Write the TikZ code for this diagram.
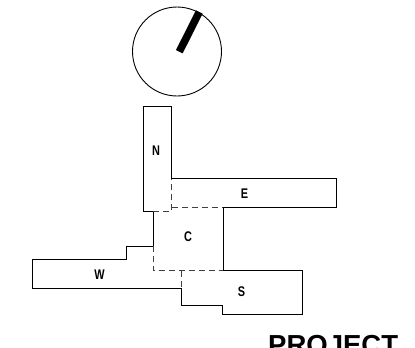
\documentclass[tikz,border=0pt]{standalone}
\usepackage{fontspec}
\setmainfont{Liberation Sans}
\tikzset{
  wall/.style={draw=black,line width=0.9pt},
  hidden/.style={draw=black!75,line width=0.9pt,dash pattern=on 6pt off 4pt},
  lbl/.style={font=\bfseries\fontsize{14}{16}\selectfont,inner sep=0pt,xscale=.78,transform shape},
  title/.style={font=\bfseries\fontsize{27.5}{30}\selectfont,inner sep=0pt,anchor=base west}
}
\begin{document}
\begin{tikzpicture}[x=1pt,y=-1pt]
\path[use as bounding box] (0,0) rectangle (415,348);
\clip (0,0) rectangle (415,348);
\fill[white] (0,0) rectangle (415,348);
\coordinate (cc) at (177,51.5);
\coordinate (h1) at (179.3,51.7);
\coordinate (h2) at (199.3,12);
\draw[wall] (cc) circle[radius=44.5];
\draw[line width=7.5pt] (h1) -- (h2);
% N
\draw[wall] (153,211.7) -- (143,211.7) -- (143,106) -- (171.5,106) -- (171.5,178.5);
\draw[hidden] (153,211.7) -- (171.5,211.7) -- (171.5,178.5);
% E
\draw[wall] (171.5,178.5) -- (336,178.5) -- (336,207.5) -- (223,207.5);
\draw[hidden] (171.5,207.5) -- (223,207.5);
% C
\draw[wall] (223,207.5) -- (223,270.7);
\draw[wall] (153,211.7) -- (153,246.3);
\draw[hidden] (153,246.3) -- (153,270.7) -- (223,270.7);
% W
\draw[wall] (153,246.3) -- (126,246.3) -- (126,259.3) -- (32,259.3) -- (32,288.3) -- (181,288.3);
\draw[hidden] (181,270.7) -- (181,288.3);
% S
\draw[wall] (223,270.7) -- (302.5,270.7) -- (302.5,314.3) -- (222.3,314.3) -- (222.3,305.5) -- (181,305.5) -- (181,288.3);
\node[lbl] (n) at (156,151) {N};
\node[lbl] (e) at (244.5,193.5) {E};
\node[lbl] (c) at (188,236.5) {C};
\node[lbl] (w) at (99.5,275) {W};
\node[lbl] (s) at (241.5,291.5) {S};
\node[title] (p) at (268,354) {PROJECT};
\end{tikzpicture}
\end{document}
